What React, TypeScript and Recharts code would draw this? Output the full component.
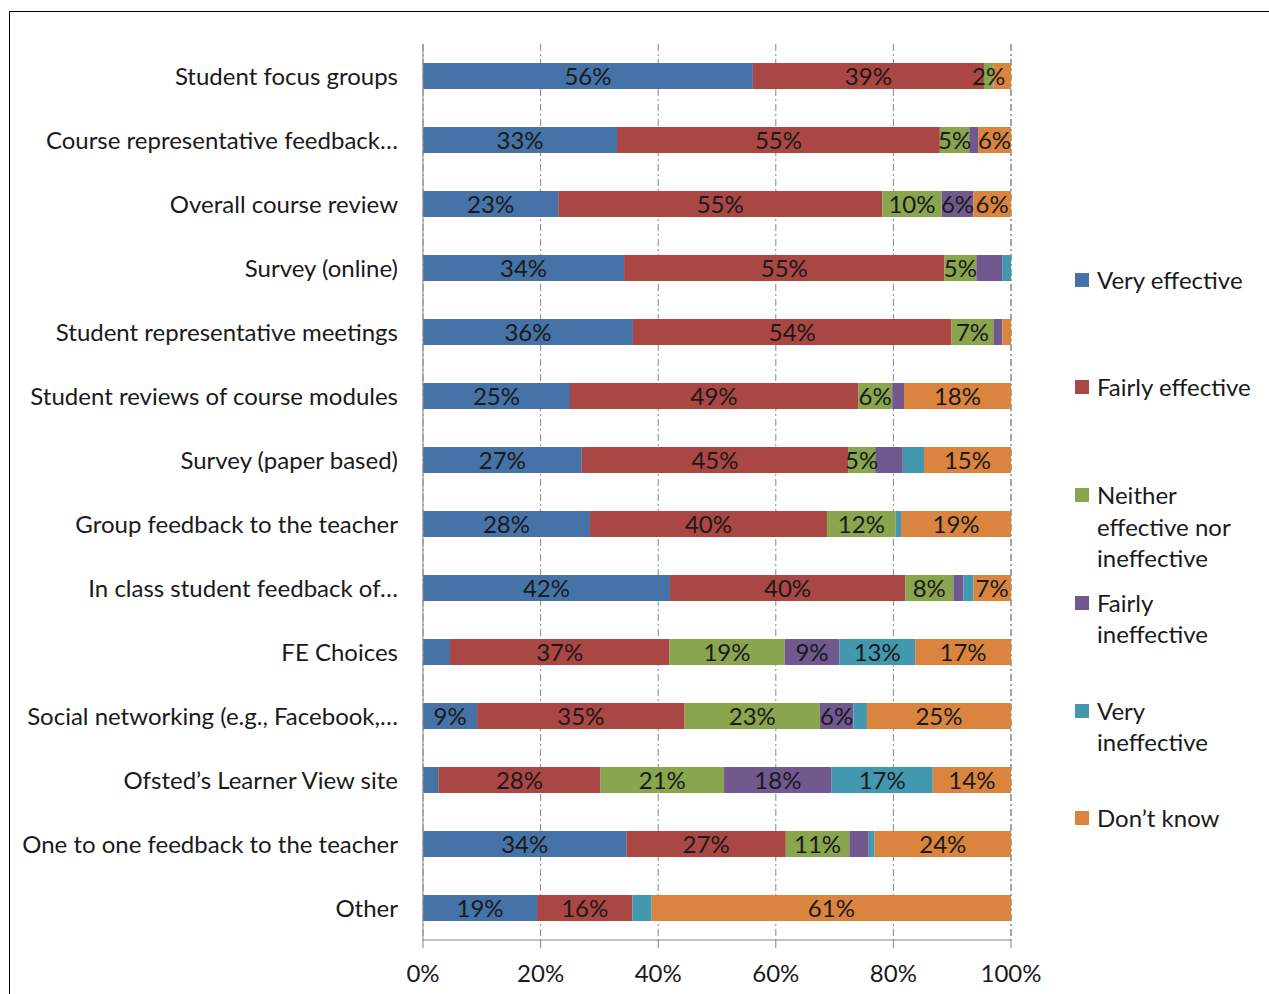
import { BarChart, Bar, XAxis, YAxis, CartesianGrid, Legend, LabelList } from "recharts";

const CATEGORIES = [
  "Student focus groups",
  "Course representative feedback…",
  "Overall course review",
  "Survey (online)",
  "Student representative meetings",
  "Student reviews of course modules",
  "Survey (paper based)",
  "Group feedback to the teacher",
  "In class student feedback of…",
  "FE Choices",
  "Social networking (e.g., Facebook,…",
  "Ofsted’s Learner View site",
  "One to one feedback to the teacher",
  "Other",
];

// shares (%)
const VERY_EFFECTIVE = [56.1, 33.0, 23.0, 34.2, 35.7, 25.0, 27.0, 28.4, 42.0, 4.6, 9.2, 2.6, 34.6, 19.4];
const FAIRLY_EFFECTIVE = [39.3, 54.9, 55.1, 54.5, 54.2, 49.0, 45.3, 40.3, 40.0, 37.3, 35.3, 27.6, 27.1, 16.2];
const NEITHER = [1.6, 5.0, 10.1, 5.4, 7.1, 5.8, 4.6, 11.7, 8.2, 19.6, 23.0, 21.0, 10.8, 0];
const FAIRLY_INEFFECTIVE = [0, 1.5, 5.4, 4.4, 1.5, 2.0, 4.7, 0, 1.7, 9.3, 5.7, 18.3, 3.3, 0];
const VERY_INEFFECTIVE = [0, 0, 0, 1.5, 0, 0, 3.6, 0.9, 1.7, 12.9, 2.3, 17.2, 1.0, 3.3];
const DONT_KNOW = [3.0, 5.6, 6.4, 0, 1.5, 18.2, 14.8, 18.7, 6.4, 16.3, 24.5, 13.3, 23.2, 61.1];

// data labels as printed on the chart ("" = no label shown)
const VE_LABELS = ["56%", "33%", "23%", "34%", "36%", "25%", "27%", "28%", "42%", "", "9%", "", "34%", "19%"];
const FE_LABELS = ["39%", "55%", "55%", "55%", "54%", "49%", "45%", "40%", "40%", "37%", "35%", "28%", "27%", "16%"];
const NE_LABELS = ["2%", "5%", "10%", "5%", "7%", "6%", "5%", "12%", "8%", "19%", "23%", "21%", "11%", ""];
const FI_LABELS = ["", "", "6%", "", "", "", "", "", "", "9%", "6%", "18%", "", ""];
const VI_LABELS = ["", "", "", "", "", "", "", "", "", "13%", "", "17%", "", ""];
const DK_LABELS = ["", "6%", "6%", "", "", "18%", "15%", "19%", "7%", "17%", "25%", "14%", "24%", "61%"];

const X_TICKS = [0, 20, 40, 60, 80, 100];

const SERIES = [
  { key: "ve", name: "Very effective", color: "#4572A7", values: VERY_EFFECTIVE, labels: VE_LABELS },
  { key: "fe", name: "Fairly effective", color: "#AA4643", values: FAIRLY_EFFECTIVE, labels: FE_LABELS },
  { key: "ne", name: "Neither effective nor ineffective", color: "#89A54E", values: NEITHER, labels: NE_LABELS },
  { key: "fi", name: "Fairly ineffective", color: "#71588F", values: FAIRLY_INEFFECTIVE, labels: FI_LABELS },
  { key: "vi", name: "Very ineffective", color: "#4198AF", values: VERY_INEFFECTIVE, labels: VI_LABELS },
  { key: "dk", name: "Don’t know", color: "#DB843D", values: DONT_KNOW, labels: DK_LABELS },
];

const data = CATEGORIES.map((name, i) => {
  const row: Record<string, string | number> = { name };
  SERIES.forEach((s) => {
    row[s.key] = s.values[i];
    row[s.key + "L"] = s.labels[i];
  });
  return row;
});

const FONT = "Lato, 'Open Sans', sans-serif";
const AXIS = "#868686";

// gaps above each legend entry, spaced like the original
const LEGEND_GAPS = [0, 75, 77, 13, 45, 44];

function LegendBox() {
  return (
    <div style={{ fontFamily: FONT, fontSize: 24, color: "#1a1a1a", lineHeight: "31.5px" }}>
      {SERIES.map((s, i) => (
        <div key={s.key} style={{ display: "flex", marginTop: LEGEND_GAPS[i] }}>
          <span
            style={{
              width: 14, height: 14, background: s.color, flex: "0 0 auto",
              marginTop: 9, marginRight: 8,
            }}
          />
          <span style={{ width: 160 }}>{s.name}</span>
        </div>
      ))}
    </div>
  );
}

export default function App() {
  return (
    <div style={{ position: "relative", width: 1269, height: 994, overflow: "hidden", background: "#fff" }}>
      <style>{"body{margin:0}"}</style>
      <div
        style={{
          position: "absolute", left: 9, top: 11, width: 1400, height: 1200,
          border: "1px solid #000",
        }}
      />
      <div style={{ position: "absolute", left: 0, top: 0 }}>
        <BarChart
          width={1269}
          height={994}
          data={data}
          layout="vertical"
          margin={{ top: 44, right: 72, bottom: 14, left: 0 }}
        >
          <CartesianGrid
            yAxisId="cat"
            horizontal={false}
            stroke={AXIS}
            strokeDasharray="7 3 2 3"
          />
          <XAxis
            type="number"
            domain={[0, 100]}
            ticks={X_TICKS}
            tickFormatter={(v) => `${v}%`}
            height={40}
            tickSize={8}
            tickMargin={17}
            stroke={AXIS}
            tick={{ fill: "#1a1a1a", fontSize: 24, fontFamily: FONT }}
          />
          <YAxis
            yAxisId="cat"
            type="category"
            dataKey="name"
            width={423}
            tickLine={false}
            tickSize={8}
            tickMargin={17}
            stroke={AXIS}
            tick={{ fill: "#1a1a1a", fontSize: 24, fontFamily: FONT }}
            interval={0}
          />
          <YAxis
            yAxisId="edge"
            type="number"
            domain={[0, CATEGORIES.length]}
            tickCount={CATEGORIES.length + 1}
            allowDecimals={false}
            width={0}
            axisLine={false}
            tickSize={8}
            stroke={AXIS}
            tick={() => <g />}
          />
          <Legend
            layout="vertical"
            align="right"
            verticalAlign="top"
            wrapperStyle={{ left: 1075, top: 264, width: 186 }}
            content={() => <LegendBox />}
          />
          {SERIES.map((s) => (
            <Bar
              key={s.key}
              yAxisId="cat"
              dataKey={s.key}
              name={s.name}
              stackId="a"
              fill={s.color}
              barSize={26}
              isAnimationActive={false}
            >
              <LabelList
                dataKey={s.key + "L"}
                position="center"
                fill="#1a1a1a"
                fontSize={24}
                fontFamily={FONT}
              />
            </Bar>
          ))}
        </BarChart>
      </div>
    </div>
  );
}
